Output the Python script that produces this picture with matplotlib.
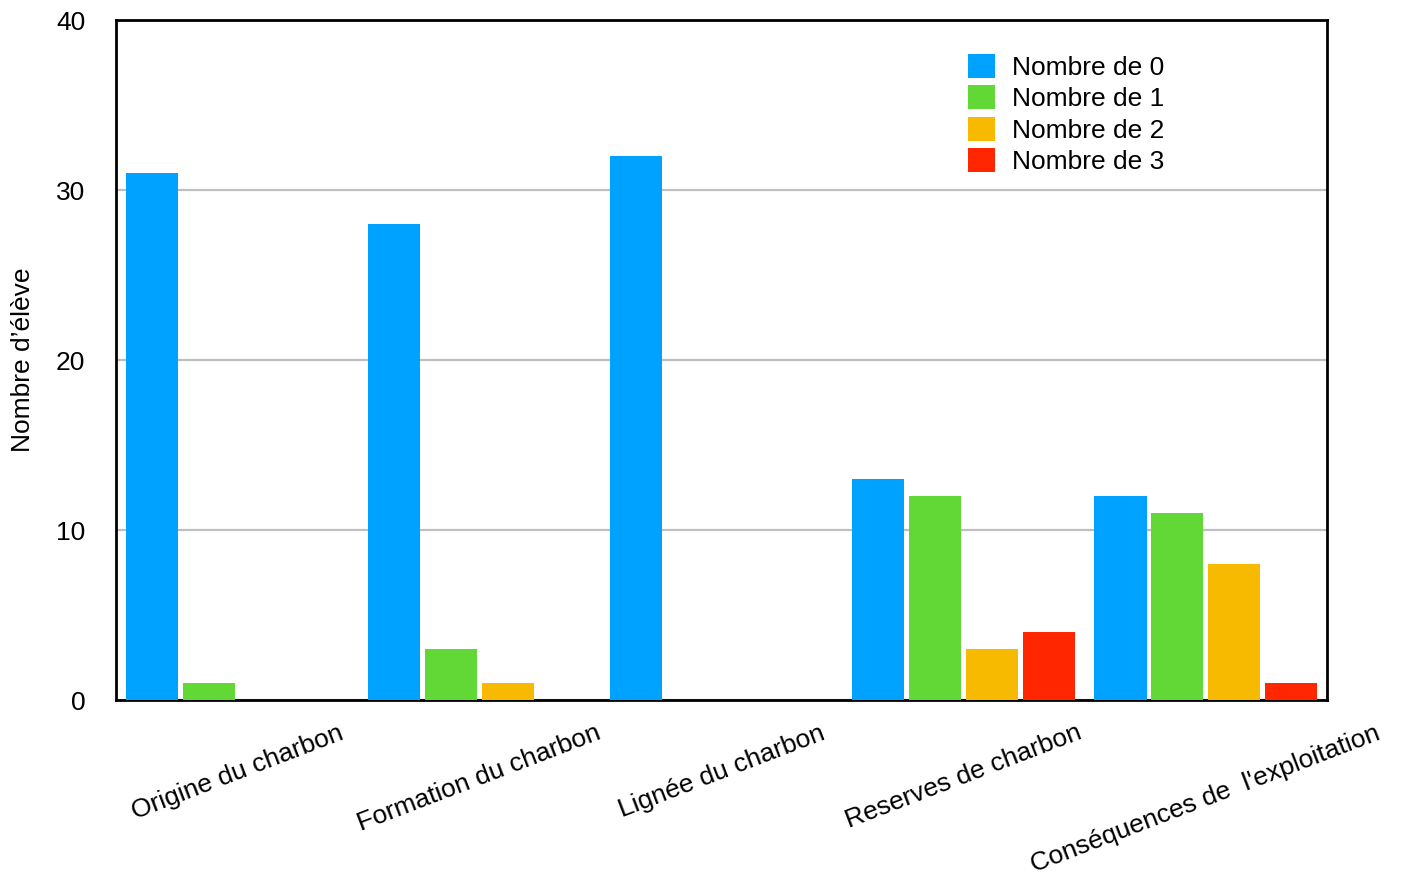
import matplotlib
matplotlib.use("Agg")
import matplotlib.pyplot as plt
import numpy as np

categories = ["Origine du charbon", "Formation du charbon", "Lignée du charbon",
              "Reserves de charbon", "Conséquences de  l'exploitation"]
series_names = ["Nombre de 0", "Nombre de 1", "Nombre de 2", "Nombre de 3"]
nombre_0 = [31, 28, 32, 13, 12]
nombre_1 = [1, 3, 0, 12, 11]
nombre_2 = [0, 1, 0, 3, 8]
nombre_3 = [0, 0, 0, 4, 1]
y_ticks = [0, 10, 20, 30, 40]
y_label = "Nombre d\u2019élève"

colors = ["#00A2FF", "#61D836", "#F8BA00", "#FF2600"]

plt.rcParams['font.family'] = ['Liberation Sans', 'DejaVu Sans']
FS = 19

W, H = 1408, 881
fig = plt.figure(figsize=(W/100, H/100), dpi=100)
ax = fig.add_axes([116/W, 1-700/H, (1327-116)/W, (700-20)/H])

series = [nombre_0, nombre_1, nombre_2, nombre_3]
x = np.arange(len(categories))
step = 0.235
width = 0.215
offsets = (np.arange(4) - 1.5) * step
for s, vals, c, off in zip(series_names, series, colors, offsets):
    ax.bar(x + 0.5 + off, vals, width=width, color=c, label=s, zorder=3)

ax.set_xlim(0, len(categories))
ax.set_ylim(0, 40)
ax.set_yticks(y_ticks)
ax.set_yticklabels([str(v) for v in y_ticks], fontsize=FS)
ax.set_xticks(x + 0.5)
ax.set_xticklabels(categories, fontsize=FS, rotation=21, ha='center', va='top')
ax.tick_params(axis='both', length=0)
ax.tick_params(axis='y', pad=22)
ax.tick_params(axis='x', pad=15)
ax.yaxis.grid(True, color='#BFBFBF', linewidth=1.6, zorder=0)
ax.set_axisbelow(True)
for sp in ax.spines.values():
    sp.set_linewidth(2)
    sp.set_color('black')
ax.set_ylabel(y_label, fontsize=FS)
ax.yaxis.set_label_coords(-81 / (1327-116), 0.5)

leg = ax.legend(loc='upper left', bbox_to_anchor=(968/W, 1-54/H),
                bbox_transform=fig.transFigure, frameon=False, fontsize=FS,
                handlelength=1.03, handleheight=1.03, labelspacing=0.2,
                handletextpad=0.62, borderpad=0, borderaxespad=0)

fig.savefig("out.png", dpi=100)
